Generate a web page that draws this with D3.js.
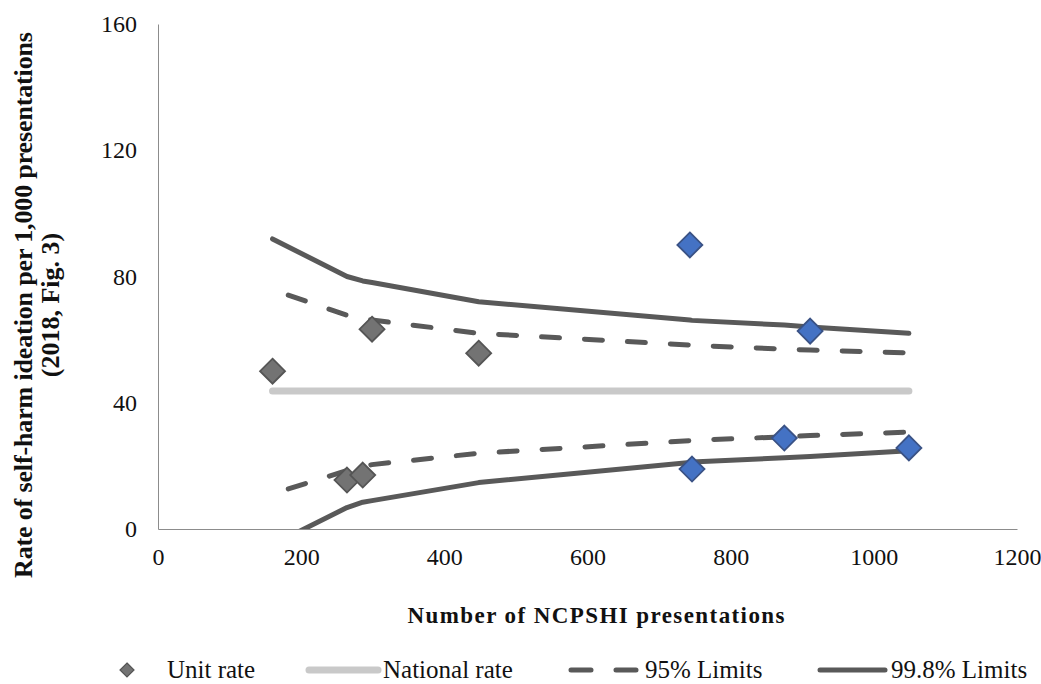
<!DOCTYPE html>
<html>
<head>
<meta charset="utf-8">
<script src="https://cdn.jsdelivr.net/npm/d3@7"></script>
<style>
   body { margin: 0; background: #fff; }
   svg { display: block; }
   svg text { font-family: "Times New Roman", "Liberation Serif", Tinos, "DejaVu Serif", serif !important; fill: #111; }
</style>
</head>
<body>
<div id="chart"></div>
<script>

// UNIT RATES (PRESENTATIONS, RATE PER 1,000, GROUP)
var unitX = [160, 264, 286, 299, 448, 743, 746, 875, 911, 1049];
var unitRate = [50, 15.5, 17.1, 63.3, 55.7, 90, 19, 28.8, 62.7, 25.7];
var unitGroup = ['grey', 'grey', 'grey', 'grey', 'grey', 'blue', 'blue', 'blue', 'blue', 'blue'];

// NATIONAL RATE
var nationalX = [160, 1049];
var nationalRate = [43.7, 43.7];

// 95% LIMITS
var limit95X = [182, 264, 286, 299, 448, 743, 746, 875, 911, 1049];
var upper95 = [74.1, 67.7, 66.6, 66.2, 62, 58.3, 58.2, 57, 56.7, 55.8];
var lower95 = [12.7, 18.5, 19.8, 20.4, 24, 28, 28.1, 29.2, 29.6, 30.7];

// 99.8% LIMITS
var limit998X = [160, 264, 286, 299, 448, 743, 746, 875, 911, 1049];
var upper998 = [91.9, 80, 78.6, 78.1, 72, 66.2, 66.1, 64.6, 64, 62];
var lower998 = [-5, 6.8, 8.5, 9, 14.7, 21.1, 21.2, 22.6, 23, 24.8];

// TICKS
var xTicks = [0, 200, 400, 600, 800, 1000, 1200];
var yTicks = [0, 40, 80, 120, 160];

// SETTINGS
var settings = {
   width: 1041,
   height: 684,
   dark: '#595959',
   light: '#c9c9c9',
   fill: { grey: '#737373', blue: '#4472c4' },
   edge: { grey: '#555555', blue: '#3a5285' }
};

// SCALES
var xScale = d3.scaleLinear().domain([0, 1200]).range([158, 1017]);
var yScale = d3.scaleLinear().domain([0, 160]).range([529, 24]);

// CANVAS
var svg = d3.select('#chart').append('svg')
   .attr('width', settings.width)
   .attr('height', settings.height);

// CLIP TO PLOT AREA
svg.append('clipPath').attr('id', 'plot')
   .append('rect')
      .attr('x', xScale(0))
      .attr('y', yScale(160))
      .attr('width', xScale(1200) - xScale(0))
      .attr('height', yScale(0) - yScale(160));

// AXES
var xAxis = d3.axisBottom(xScale).tickValues(xTicks).tickFormat(d3.format('d')).tickSize(0).tickPadding(19);
var yAxis = d3.axisLeft(yScale).tickValues(yTicks).tickFormat(d3.format('d')).tickSize(0).tickPadding(21);

svg.append('g')
   .attr('transform', 'translate(0,' + yScale(0) + ')')
   .call(xAxis)
   .attr('font-family', null)
   .call(g => g.select('.domain').attr('stroke', '#8c8c8c'))
   .selectAll('text')
      .attr('font-size', 24)
      .attr('fill', '#111');

svg.append('g')
   .attr('transform', 'translate(' + xScale(0) + ',0)')
   .call(yAxis)
   .attr('font-family', null)
   .call(g => g.select('.domain').attr('stroke', '#8c8c8c'))
   .selectAll('text')
      .attr('font-size', 24)
      .attr('fill', '#111');

// LINE GENERATOR
function pathify(xs, ys) {
   return d3.line()
      .x((d, i) => xScale(xs[i]))
      .y(d => yScale(d))(ys);
}

var plot = svg.append('g').attr('clip-path', 'url(#plot)');

// NATIONAL RATE
plot.append('path')
   .attr('d', pathify(nationalX, nationalRate))
   .attr('fill', 'none')
   .attr('stroke', settings.light)
   .attr('stroke-width', 7)
   .attr('stroke-linecap', 'round');

// LIMIT LINES
[upper998, lower998].forEach(values => {
   plot.append('path')
      .attr('d', pathify(limit998X, values))
      .attr('fill', 'none')
      .attr('stroke', settings.dark)
      .attr('stroke-width', 5)
      .attr('stroke-linecap', 'round')
      .attr('stroke-linejoin', 'round');
});

[upper95, lower95].forEach(values => {
   plot.append('path')
      .attr('d', pathify(limit95X, values))
      .attr('fill', 'none')
      .attr('stroke', settings.dark)
      .attr('stroke-width', 5)
      .attr('stroke-dasharray', '18,25')
      .attr('stroke-linecap', 'round');
});

// DIAMOND SHAPE
function diamond(r) { return 'M0,' + (-r) + 'L' + r + ',0L0,' + r + 'L' + (-r) + ',0Z'; }

// UNIT RATES
svg.selectAll('path.unit')
   .data(unitRate)
      .enter().append('path')
         .attr('class', 'unit')
         .attr('d', diamond(12.5))
         .attr('transform', (d, i) => 'translate(' + xScale(unitX[i]) + ',' + yScale(d) + ')')
         .attr('fill', (d, i) => settings.fill[unitGroup[i]])
         .attr('stroke', (d, i) => settings.edge[unitGroup[i]])
         .attr('stroke-width', 1.8);

// AXIS TITLES
svg.append('text')
   .attr('x', 596).attr('y', 623)
   .attr('text-anchor', 'middle')
   .attr('font-weight', 'bold')
   .attr('font-size', 23)
   .attr('textLength', 377)
   .text('Number of NCPSHI presentations');

var ytitle = svg.append('g').attr('transform', 'translate(0,305) rotate(-90)');
ytitle.append('text')
   .attr('x', 0).attr('y', 32)
   .attr('text-anchor', 'middle')
   .attr('font-weight', 'bold')
   .attr('font-size', 26)
   .attr('textLength', 546)
   .text('Rate of self-harm  ideation per 1,000 presentations');
ytitle.append('text')
   .attr('x', 0).attr('y', 59)
   .attr('text-anchor', 'middle')
   .attr('font-weight', 'bold')
   .attr('font-size', 26)
   .text('(2018, Fig. 3)');

// LEGEND
var legend = svg.append('g').attr('transform', 'translate(0,670)');

legend.append('path')
   .attr('d', diamond(7))
   .attr('transform', 'translate(127,0)')
   .attr('fill', settings.fill.grey)
   .attr('stroke', settings.edge.grey)
   .attr('stroke-width', 1.2);

legend.append('line')
   .attr('x1', 309).attr('x2', 378)
   .attr('stroke', settings.light).attr('stroke-width', 7).attr('stroke-linecap', 'round');

legend.append('line')
   .attr('x1', 571).attr('x2', 636)
   .attr('stroke', settings.dark).attr('stroke-width', 5).attr('stroke-linecap', 'round')
   .attr('stroke-dasharray', '20,25');

legend.append('line')
   .attr('x1', 820).attr('x2', 885)
   .attr('stroke', settings.dark).attr('stroke-width', 5).attr('stroke-linecap', 'round');

var labels = [['Unit rate', 167], ['National rate', 383], ['95% Limits', 645], ['99.8% Limits', 891]];
labels.forEach(l => {
   legend.append('text')
      .attr('x', l[1]).attr('y', 8)
      .attr('font-size', 25)
      .text(l[0]);
});

</script>
</body>
</html>
